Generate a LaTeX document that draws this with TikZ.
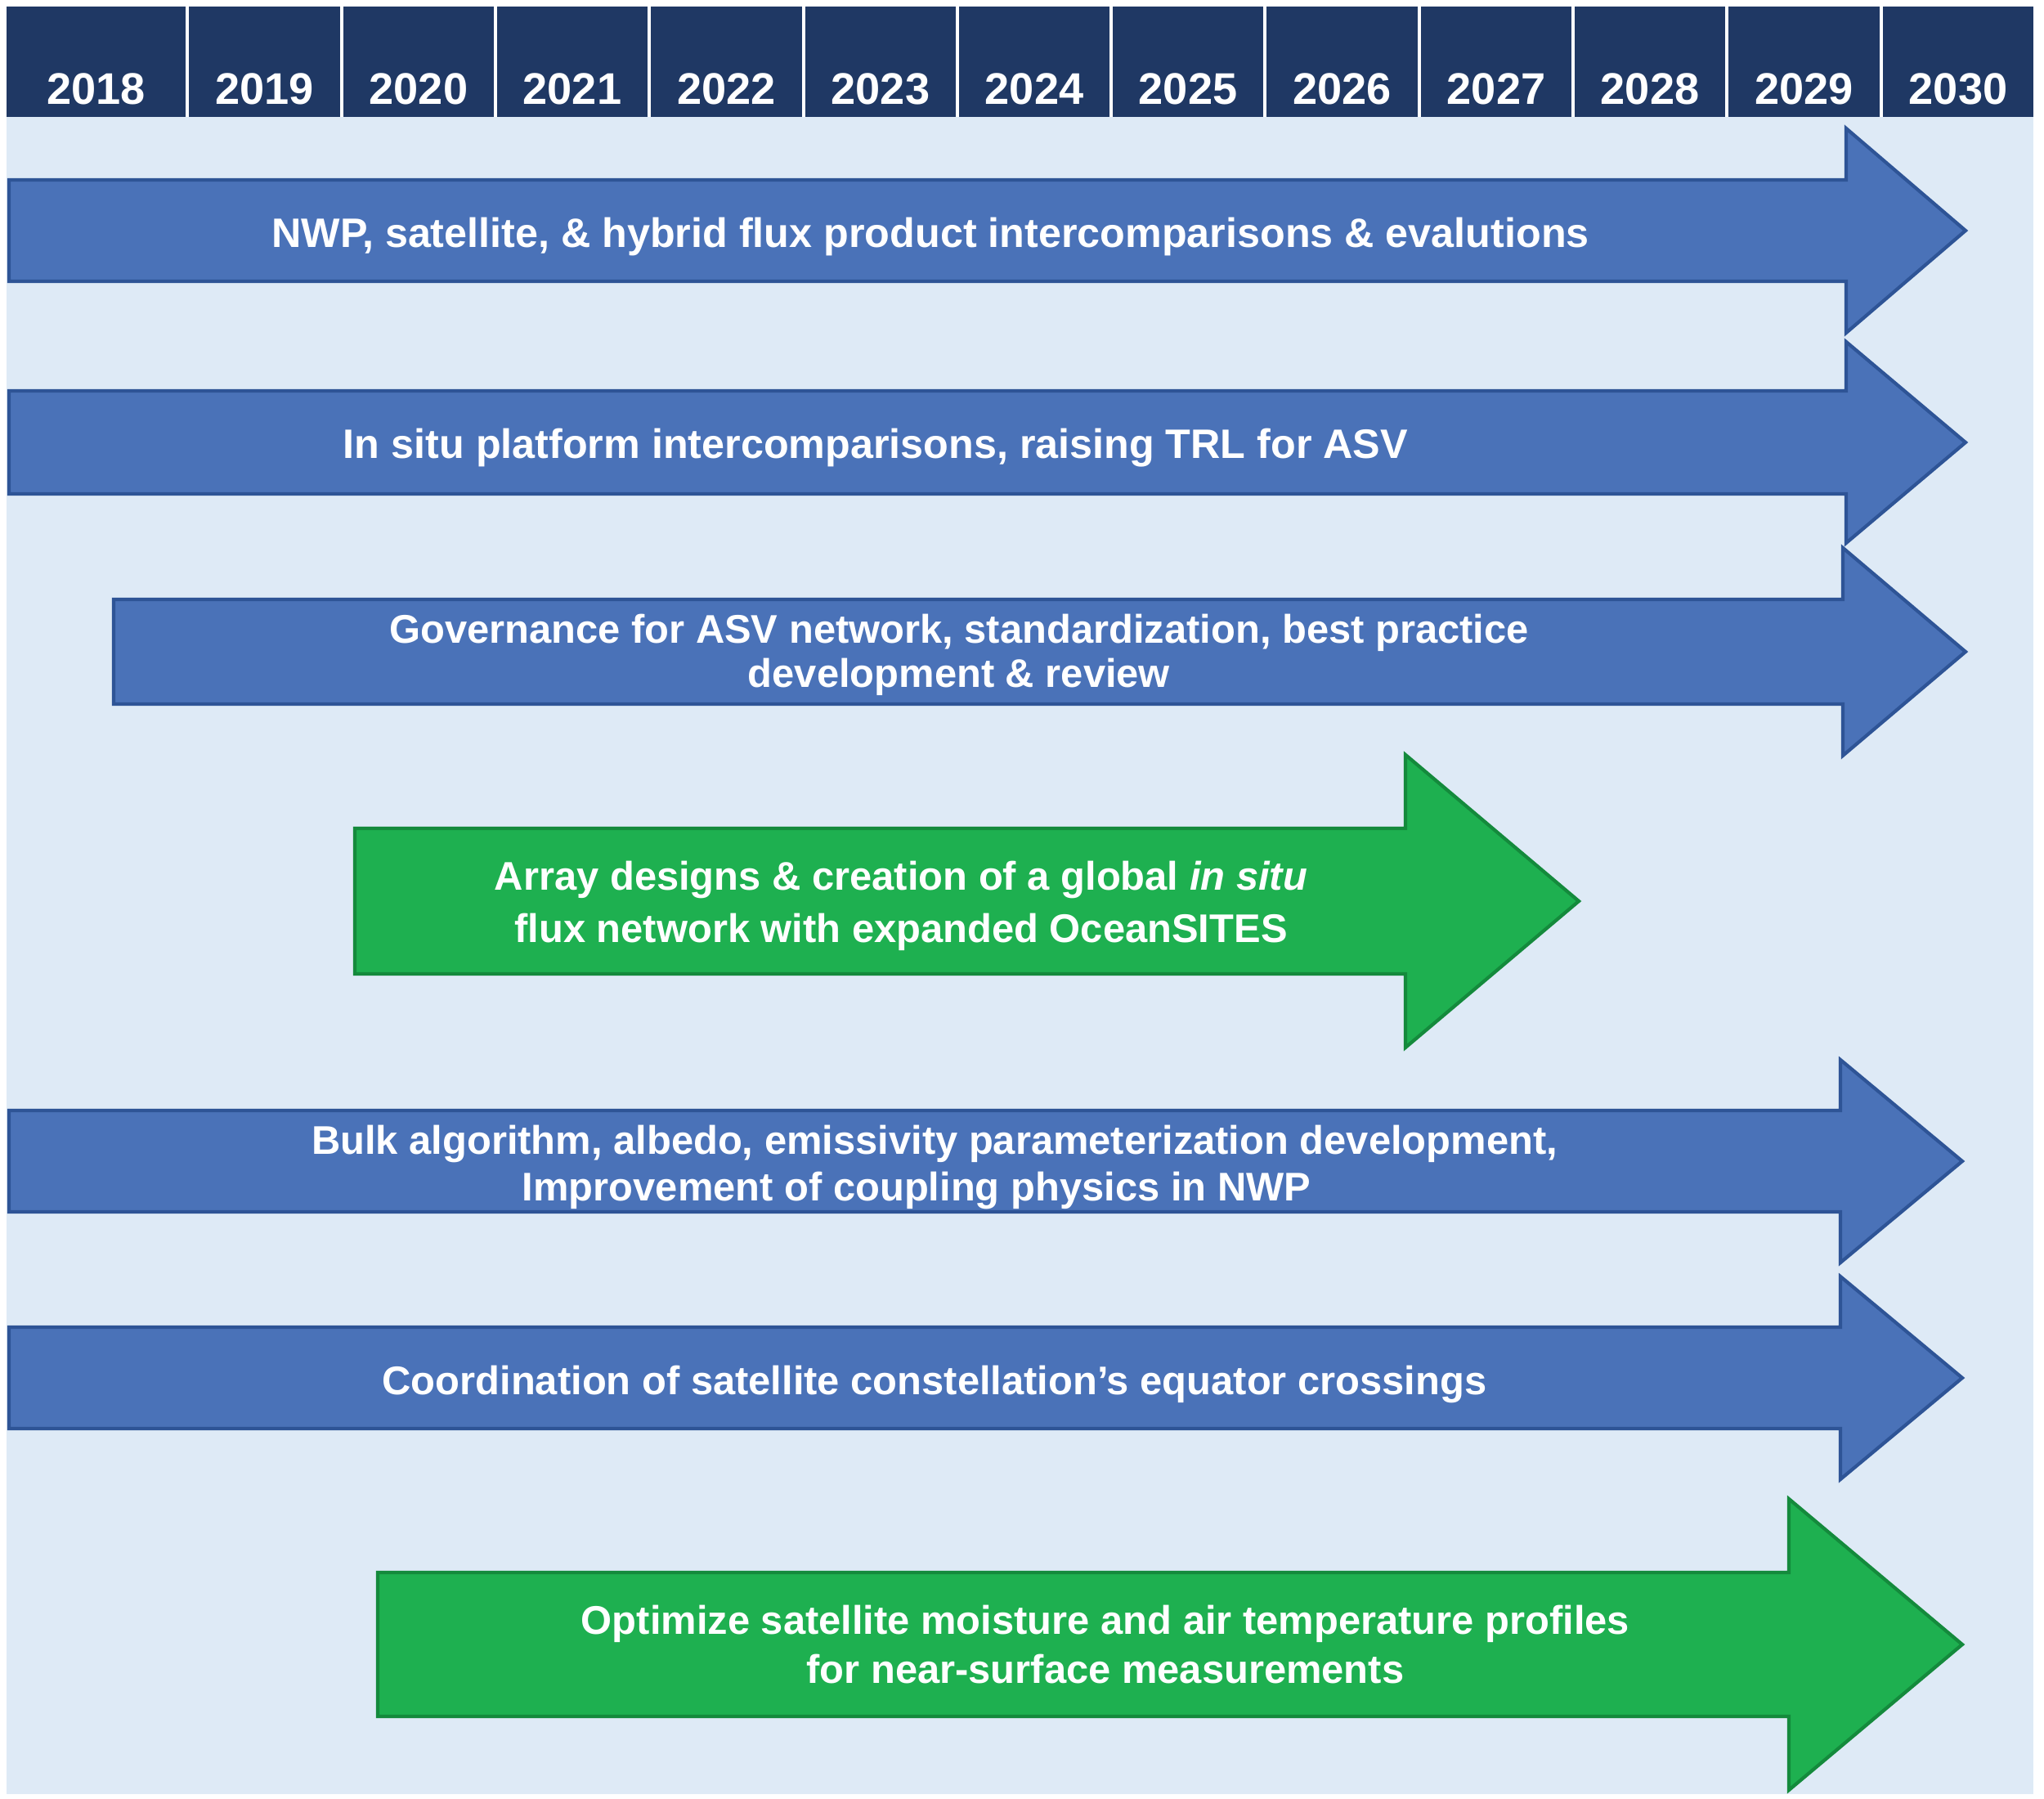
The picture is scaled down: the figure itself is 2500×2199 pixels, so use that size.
\documentclass[tikz,border=0pt]{standalone}
\usepackage{fontspec}
\setmainfont{Liberation Sans}
\definecolor{navy}{HTML}{1F3864}
\definecolor{bgblue}{HTML}{DEEAF6}
\definecolor{arrblue}{HTML}{4A72B8}
\definecolor{arrblueline}{HTML}{2E5496}
\definecolor{arrgreen}{HTML}{1EB050}
\definecolor{arrgreenline}{HTML}{148A3C}
\newcommand\tlarrow[7]{%
  \draw[#1] ({#2},{#5-#6}) -- ({#3},{#5-#6}) -- ({#3},{#5-#7}) -- ({#4},{#5})
    -- ({#3},{#5+#7}) -- ({#3},{#5+#6}) -- ({#2},{#5+#6}) -- cycle;}
\begin{document}
\begin{tikzpicture}[x=0.01cm,y=-0.01cm,
  bluearrow/.style={fill=arrblue,draw=arrblueline,line width=1.2pt,line join=miter},
  greenarrow/.style={fill=arrgreen,draw=arrgreenline,line width=1.2pt,line join=miter},
  yeartext/.style={text=white,inner sep=0pt,font=\fontsize{15.4}{18}\selectfont\bfseries},
  lbl/.style={text=white,inner sep=0pt,align=center,font=\fontsize{13.9}{15.4}\selectfont\bfseries}]
\useasboundingbox (0,0) rectangle (2500,2199);
\fill[white] (0,0) rectangle (2500,2199);
\fill[bgblue] (8,143) rectangle (2487,2194);
% header
\foreach \a/\b/\yr in {8/227/2018, 231/416/2019, 420/604/2020, 608/792/2021, 796/981/2022,
  985/1169/2023, 1173/1357/2024, 1361/1545/2025, 1549/1734/2026, 1738/1922/2027,
  1926/2110/2028, 2114/2299/2029, 2303/2487/2030}{
  \fill[navy] (\a,8) rectangle (\b,143);
  \node[yeartext,anchor=base] (y\yr) at ({(\a+\b)/2},127) {\yr};
}
% arrows
\tlarrow{bluearrow}{11}{2258}{2404}{282}{62}{125}
\tlarrow{bluearrow}{11}{2258}{2404}{541}{63}{123}
\tlarrow{bluearrow}{139}{2254}{2404}{797}{64}{127}
\tlarrow{greenarrow}{434}{1719}{1931}{1102}{89}{179}
\tlarrow{bluearrow}{11}{2251}{2400}{1420}{62}{124}
\tlarrow{bluearrow}{11}{2251}{2400}{1685}{62}{124}
\tlarrow{greenarrow}{462}{2188}{2400}{2011}{88}{178}
% labels
\node[lbl,font=\fontsize{14.3}{16}\selectfont\bfseries] (t1) at (1138,289) {NWP, satellite, \& hybrid flux product intercomparisons \& evalutions};
\node[lbl,font=\fontsize{14.3}{16}\selectfont\bfseries] (t2) at (1071,548) {In situ platform intercomparisons, raising TRL for ASV};
\node[lbl,font=\fontsize{13.9}{15.4}\selectfont\bfseries] (t3) at (1173,801) {Governance for ASV network, standardization, best practice\\development \& review};
\node[lbl,font=\fontsize{13.9}{18.2}\selectfont\bfseries] (t4) at (1102,1108) {Array designs \& creation of a global {\itshape in situ}\\flux network with expanded OceanSITES};
\node[lbl,font=\fontsize{13.9}{16.2}\selectfont\bfseries] (t5) at (1143,1427) {Bulk algorithm, albedo, emissivity parameterization development,\\Improvement of coupling physics in NWP\hspace*{0.9em}};
\node[lbl] (t6) at (1143,1693) {Coordination of satellite constellation’s equator crossings};
\node[lbl,font=\fontsize{13.9}{16.8}\selectfont\bfseries] (t7) at (1352,2011) {Optimize satellite moisture and air temperature profiles\\for near-surface measurements};
\end{tikzpicture}
\end{document}
